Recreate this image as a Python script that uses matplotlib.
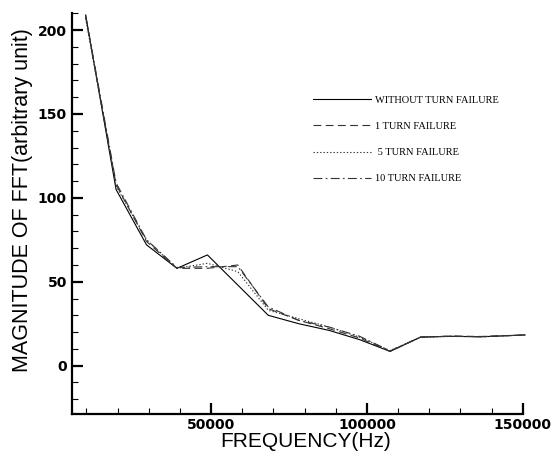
import numpy as np
import matplotlib
matplotlib.use('Agg')
from matplotlib import pyplot as plt
from matplotlib.ticker import MultipleLocator

# values
freq = [9766, 19531, 29297, 39062, 48828, 58594, 68359, 78125,
        87891, 97656, 107422, 117188, 126953, 136719, 150700]
no_fail = [209, 105, 72, 58, 66, 48, 30, 25, 21, 15.5, 8.5, 17, 17.5, 17.2, 18.3]
fail_1 = [208, 108, 74, 58, 58, 60, 34, 27, 22, 16.5, 8.5, 17, 17.6, 17.4, 18.3]
fail_5 = [207, 107, 75, 58, 61, 56, 33, 28, 23, 17, 9, 17, 17.4, 17.3, 18.3]
fail_10 = [209, 109, 75, 58.5, 59, 59, 35, 27, 23, 17.5, 8.8, 17, 17.6, 17.2, 18.3]

labels = ['WITHOUT TURN FAILURE', '1 TURN FAILURE', ' 5 TURN FAILURE', '10 TURN FAILURE']


def main():
    fig = plt.figure(figsize=(5.58, 4.53), dpi=100)
    ax = fig.add_axes([0.1296, 0.0854, 0.8074, 0.8852])

    ax.plot(freq, no_fail, color='black', lw=0.8, ls='-', label=labels[0], clip_on=False)
    ax.plot(freq, fail_1, color='#333333', lw=0.8, ls=(0, (7, 4)), label=labels[1], clip_on=False)
    ax.plot(freq, fail_5, color='#333333', lw=0.8, ls=(0, (1.2, 1.8)), label=labels[2], clip_on=False)
    ax.plot(freq, fail_10, color='#333333', lw=0.8, ls=(0, (8, 3, 1.5, 3)), label=labels[3], clip_on=False)

    ax.set_xlim(5500, 150000)
    ax.set_ylim(-29, 210)

    ax.xaxis.set_major_locator(MultipleLocator(50000))
    ax.xaxis.set_minor_locator(MultipleLocator(10000))
    ax.yaxis.set_major_locator(MultipleLocator(50))
    ax.yaxis.set_minor_locator(MultipleLocator(10))

    for s in ['top', 'right']:
        ax.spines[s].set_visible(False)
    for s in ['left', 'bottom']:
        ax.spines[s].set_linewidth(1.6)

    ax.tick_params(which='major', direction='in', length=8, width=1.6, pad=4)
    ax.tick_params(axis='x', which='major', pad=2.5)
    ax.tick_params(which='minor', direction='in', length=4, width=0.8)
    for t in ax.get_xticklabels() + ax.get_yticklabels():
        t.set_fontfamily('DejaVu Sans')
        t.set_fontweight('bold')
        t.set_fontsize(10)

    ax.set_xlabel('FREQUENCY(Hz)', fontfamily='Liberation Sans', fontsize=15)
    ax.set_ylabel('MAGNITUDE OF FFT(arbitrary unit)', fontfamily='Liberation Sans',
                  fontsize=15.5)
    ax.xaxis.set_label_coords(0.517, -0.045)
    ax.yaxis.set_label_coords(-0.088, 0.535)

    leg = ax.legend(loc='upper left', bbox_to_anchor=(0.513, 0.818), frameon=False,
                    handlelength=5.6, handletextpad=0.4, labelspacing=1.62,
                    prop={'family': 'Liberation Serif', 'size': 7.5})

    fig.savefig('out.png', dpi=100)


if __name__ == "__main__":
    main()
